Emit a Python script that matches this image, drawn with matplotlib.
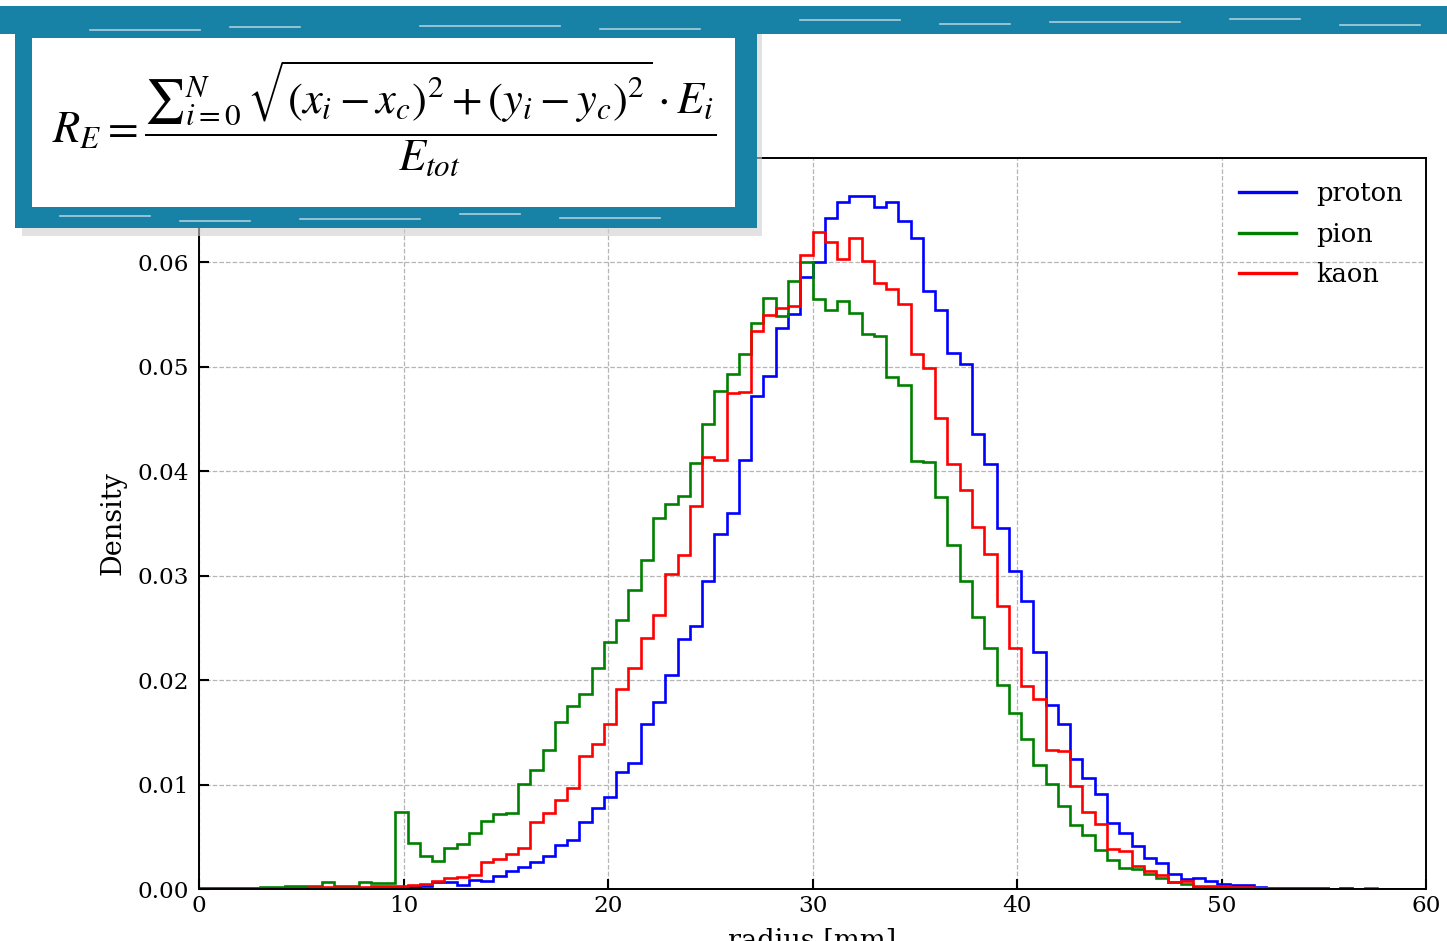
import numpy as np
import matplotlib
matplotlib.use("Agg")
import matplotlib.pyplot as plt
from matplotlib.patches import Rectangle

# ---------------- data (density per bin, 100 bins over 0..60 mm) ----------------
bin_lo, bin_hi, n_bins = 0.0, 60.0, 100

proton = [
    0.00002, 0.00002, 0.00003, 0.00003, 0.00004, 0.00004, 0.00005, 0.00005, 0.00006, 0.00006,
    0.00007, 0.00008, 0.00008, 0.00010, 0.00010, 0.00011, 0.00012, 0.00016, 0.00032, 0.00064,
    0.00064, 0.00041, 0.00089, 0.00080, 0.00127, 0.00175, 0.00213, 0.00261, 0.00318, 0.00420,
    0.00471, 0.00642, 0.00779, 0.00881, 0.01122, 0.01208, 0.01580, 0.01790, 0.02045, 0.02394,
    0.02518, 0.02948, 0.03400, 0.03597, 0.04105, 0.04724, 0.04914, 0.05375, 0.05502, 0.05857,
    0.06000, 0.06429, 0.06575, 0.06640, 0.06640, 0.06533, 0.06575, 0.06397, 0.06232, 0.05724,
    0.05543, 0.05130, 0.05025, 0.04359, 0.04073, 0.03454, 0.03046, 0.02757, 0.02273, 0.01765,
    0.01583, 0.01246, 0.01065, 0.00906, 0.00636, 0.00541, 0.00407, 0.00296, 0.00248, 0.00143,
    0.00095, 0.00102, 0.00073, 0.00048, 0.00041, 0.00041, 0.00016, 0.00012, 0.00010, 0.00008,
    0.00006, 0.00005, 0.00004, 0.00006, 0.00003, 0.00003, 0.00002, 0.00002, 0.00001, 0.00001,
]

pion = [
    0.00006, 0.00006, 0.00006, 0.00006, 0.00013, 0.00020, 0.00020, 0.00032, 0.00032, 0.00032,
    0.00070, 0.00032, 0.00032, 0.00064, 0.00054, 0.00054, 0.00741, 0.00439, 0.00318, 0.00270,
    0.00388, 0.00429, 0.00541, 0.00652, 0.00715, 0.00725, 0.01008, 0.01135, 0.01329, 0.01596,
    0.01749, 0.01866, 0.02114, 0.02362, 0.02576, 0.02862, 0.03148, 0.03550, 0.03686, 0.03765,
    0.04083, 0.04454, 0.04771, 0.04930, 0.05121, 0.05422, 0.05660, 0.05486, 0.05819, 0.06000,
    0.05651, 0.05543, 0.05629, 0.05517, 0.05311, 0.05292, 0.04905, 0.04829, 0.04098, 0.04086,
    0.03756, 0.03295, 0.02951, 0.02607, 0.02305, 0.01949, 0.01685, 0.01440, 0.01186, 0.01008,
    0.00795, 0.00617, 0.00515, 0.00375, 0.00280, 0.00197, 0.00190, 0.00143, 0.00102, 0.00064,
    0.00048, 0.00022, 0.00020, 0.00015, 0.00012, 0.00010, 0.00010, 0.00008, 0.00006, 0.00005,
    0.00004, 0.00004, 0.00003, 0.00003, 0.00002, 0.00002, 0.00002, 0.00001, 0.00001, 0.00001,
]

kaon = [
    0.00006, 0.00006, 0.00006, 0.00006, 0.00013, 0.00013, 0.00013, 0.00013, 0.00013, 0.00016,
    0.00016, 0.00016, 0.00016, 0.00020, 0.00032, 0.00032, 0.00032, 0.00041, 0.00048, 0.00080,
    0.00102, 0.00118, 0.00137, 0.00254, 0.00286, 0.00334, 0.00397, 0.00642, 0.00725, 0.00849,
    0.00970, 0.01272, 0.01390, 0.01580, 0.01917, 0.02121, 0.02407, 0.02620, 0.03021, 0.03202,
    0.03667, 0.04137, 0.04111, 0.04752, 0.04759, 0.05343, 0.05492, 0.05559, 0.05587, 0.06073,
    0.06295, 0.06200, 0.06032, 0.06238, 0.06016, 0.05803, 0.05746, 0.05603, 0.05127, 0.04987,
    0.04508, 0.04067, 0.03819, 0.03470, 0.03211, 0.02712, 0.02305, 0.01946, 0.01819, 0.01329,
    0.01320, 0.00986, 0.00738, 0.00620, 0.00382, 0.00366, 0.00216, 0.00175, 0.00137, 0.00070,
    0.00080, 0.00032, 0.00030, 0.00025, 0.00020, 0.00020, 0.00012, 0.00010, 0.00008, 0.00007,
    0.00006, 0.00005, 0.00004, 0.00004, 0.00003, 0.00005, 0.00003, 0.00002, 0.00002, 0.00001,
]

series_names = ["proton", "pion", "kaon"]
series_colors = ["blue", "green", "red"]
x_ticks = [0, 10, 20, 30, 40, 50, 60]
y_ticks = [0.00, 0.01, 0.02, 0.03, 0.04, 0.05, 0.06]

# ---------------- figure ----------------
W, H = 1447, 941
plt.rcParams["font.family"] = ["DejaVu Serif"]
fig = plt.figure(figsize=(W / 100, H / 100), dpi=100)

def fx(px):
    return px / W

def fy(py):
    return 1 - py / H

ax = fig.add_axes([fx(199), fy(889), fx(1426) - fx(199), fy(158) - fy(889)])

edges = np.linspace(bin_lo, bin_hi, n_bins + 1)
for name, vals, col in zip(series_names, [proton, pion, kaon], series_colors):
    ax.stairs(vals, edges, color=col, linewidth=1.9, label=name, baseline=0)

ax.set_xlim(0, 60)
ax.set_ylim(0, 0.07)
ax.set_xticks(x_ticks)
ax.set_yticks(y_ticks)
ax.set_xticklabels([str(t) for t in x_ticks])
ax.set_yticklabels([f"{t:.2f}" for t in y_ticks])
ax.tick_params(axis="both", direction="in", length=7, width=1.5, labelsize=16.7,
               top=False, right=False)
ax.tick_params(axis="y", pad=7)
ax.tick_params(axis="x", pad=4)
for sp in ax.spines.values():
    sp.set_linewidth(1.4)
ax.set_axisbelow(True)
ax.grid(True, linestyle="--", color="#b5b5b5", linewidth=0.9)
ax.set_ylabel("Density", fontsize=19.5, labelpad=8)
ax.set_xlabel("radius [mm]", fontsize=19.5, labelpad=8)

leg = ax.legend(loc="upper right", frameon=False, fontsize=18.5, handlelength=2.2,
                handletextpad=0.8, labelspacing=0.6)
for h in leg.get_lines():
    h.set_linewidth(2.4)

# ---------------- decorative brush frame with formula ----------------
teal = "#1782a6"
# shadow
fig.add_artist(Rectangle((fx(22), fy(236)), fx(762) - fx(22), fy(30) - fy(236),
                         transform=fig.transFigure, facecolor="#cfcfcf", edgecolor="none",
                         alpha=0.6, zorder=10))
# top brush band
fig.add_artist(Rectangle((fx(0), fy(34)), 1.0, fy(6) - fy(34),
                         transform=fig.transFigure, facecolor=teal, edgecolor="none", zorder=11))
# outer box
fig.add_artist(Rectangle((fx(15), fy(228)), fx(757) - fx(15), fy(22) - fy(228),
                         transform=fig.transFigure, facecolor=teal, edgecolor="none", zorder=12))
# inner white area
fig.add_artist(Rectangle((fx(32), fy(207)), fx(735) - fx(32), fy(38) - fy(207),
                         transform=fig.transFigure, facecolor="white", edgecolor="none", zorder=13))
# light streaks in the brush strokes
for (x0, x1, yy) in [(90, 200, 30), (230, 300, 27), (420, 560, 26), (600, 700, 29),
                     (800, 900, 20), (940, 1010, 24), (1050, 1180, 22), (1230, 1300, 19),
                     (1340, 1420, 25), (60, 150, 216), (180, 250, 221), (300, 420, 219),
                     (460, 520, 214), (560, 660, 218)]:
    fig.add_artist(plt.Line2D([fx(x0), fx(x1)], [fy(yy), fy(yy)], transform=fig.transFigure,
                              color="#e8eef2", linewidth=1.2, alpha=0.7, zorder=14))

formula = (r"$R_E = \dfrac{{\sum}_{i=0}^{N}\,\sqrt{(x_i - x_c)^2 + (y_i - y_c)^2}\cdot E_i}"
           r"{E_{tot}}$")
fig.text(fx(52), fy(118), formula, fontsize=32, math_fontfamily="stix",
         ha="left", va="center", zorder=15)

fig.savefig("out.png", dpi=100)
